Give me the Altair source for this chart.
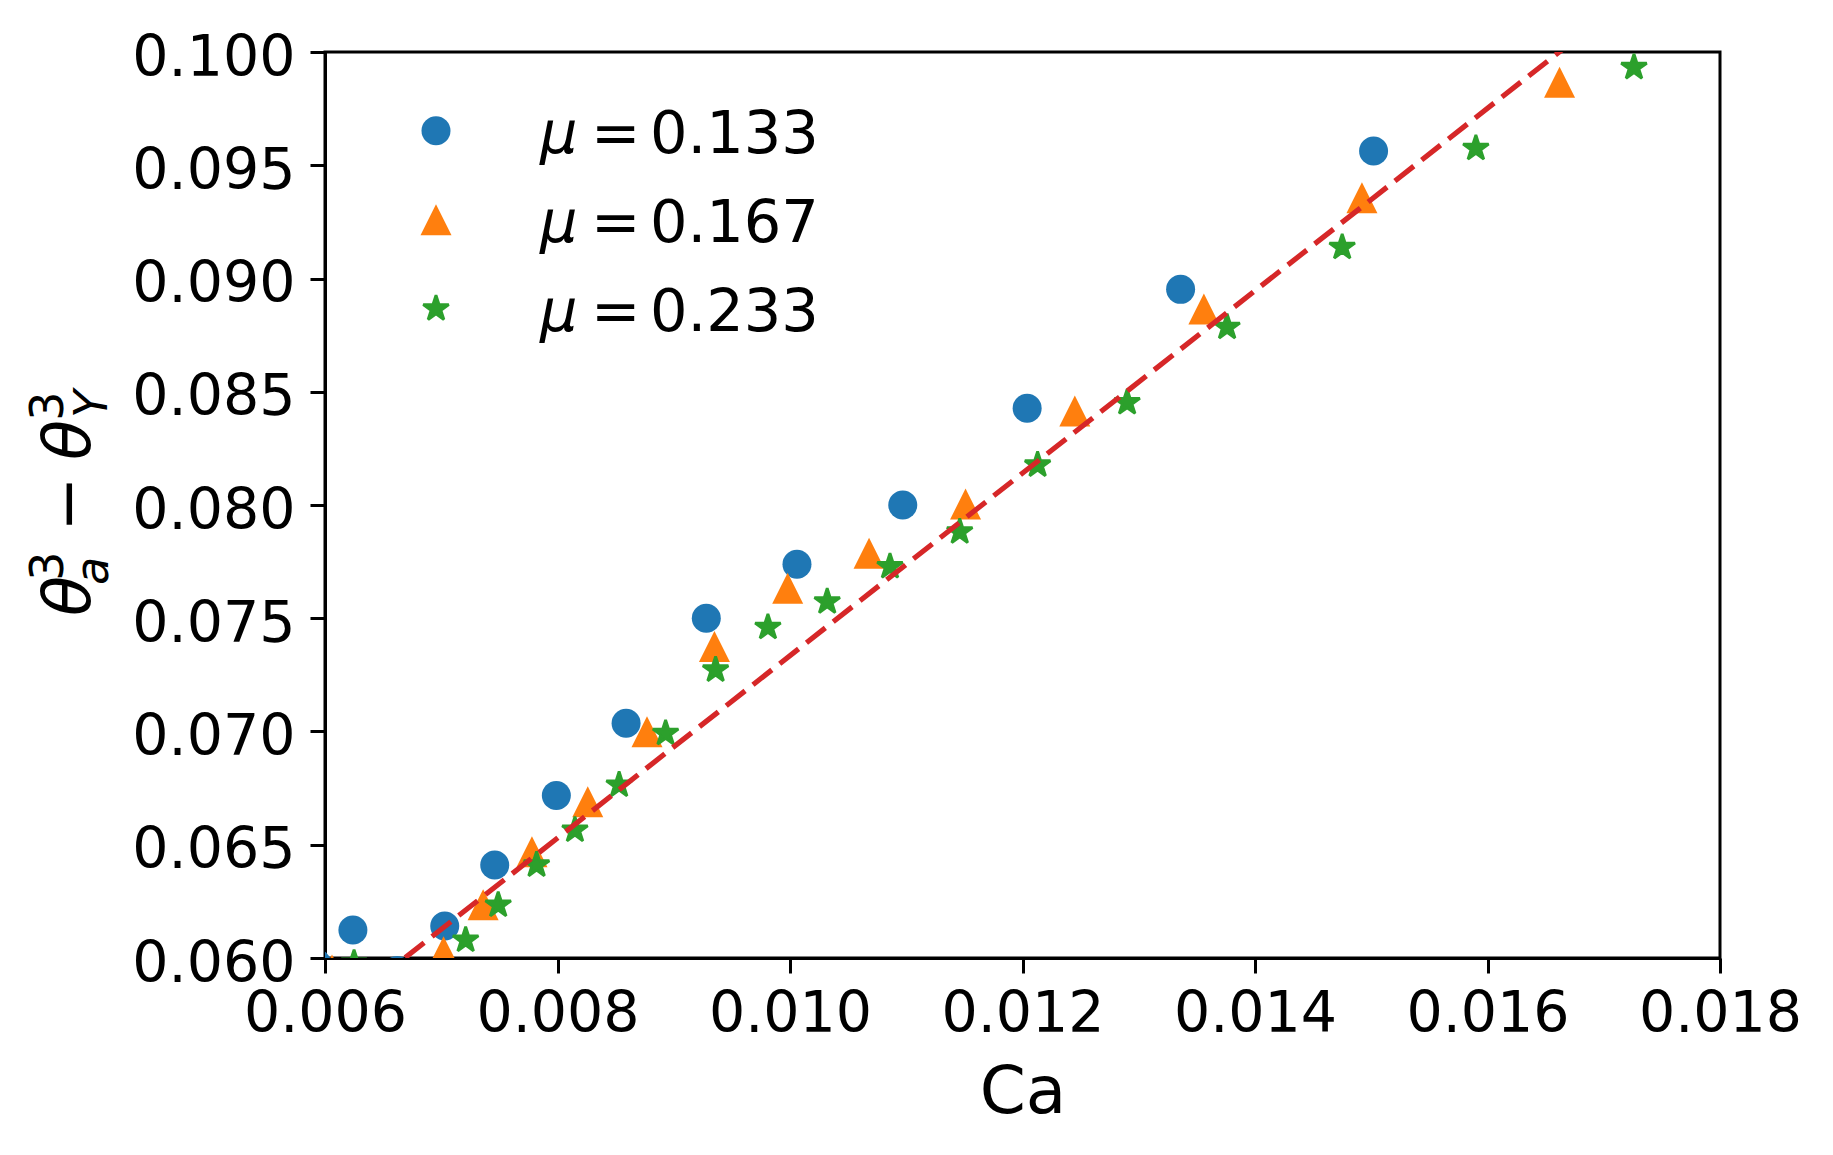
import altair as alt
import pandas as pd

# ---------------- data ----------------
mu_labels = ["0.133", "0.167", "0.233"]

ca_133 = [0.00593, 0.00624, 0.00662, 0.00703, 0.00746, 0.00799, 0.00859,
          0.00928, 0.01006, 0.01097, 0.01204, 0.01336, 0.01502]
dt_133 = [0.05974, 0.06124, 0.05945, 0.06141, 0.06411, 0.06717, 0.07036,
          0.07500, 0.07738, 0.08000, 0.08427, 0.08952, 0.09563]

ca_167 = [0.00606, 0.00702, 0.00736, 0.00778, 0.00826, 0.00877, 0.00935,
          0.00998, 0.01068, 0.01151, 0.01245, 0.01356, 0.01492, 0.01662]
dt_167 = [0.05947, 0.06028, 0.06235, 0.06469, 0.06690, 0.06999, 0.07375,
          0.07632, 0.07787, 0.08004, 0.08415, 0.08865, 0.09357, 0.09866]

ca_233 = [0.00625, 0.00721, 0.00749, 0.00782, 0.00815, 0.00853, 0.00893,
          0.00936, 0.00981, 0.01032, 0.01086, 0.01146, 0.01213, 0.01290,
          0.01376, 0.01475, 0.01590, 0.01726]
dt_233 = [0.05978, 0.06079, 0.06234, 0.06411, 0.06565, 0.06764, 0.06992,
          0.07272, 0.07460, 0.07573, 0.07728, 0.07882, 0.08177, 0.08452,
          0.08785, 0.09138, 0.09575, 0.09932]

fit_ca = [0.0060, 0.0180]
fit_dt = [0.05724, 0.10557]

x_ticks = [0.006, 0.008, 0.010, 0.012, 0.014, 0.016, 0.018]
y_ticks = [0.060, 0.065, 0.070, 0.075, 0.080, 0.085, 0.090, 0.095, 0.100]

# ---------------- styles ----------------
FONT = "DejaVu Sans"
colors = ["#1f77b4", "#ff7f0e", "#2ca02c"]
TRI = "M0,-1L-1,1L1,1Z"
STAR = ("M0,-1L0.2245,-0.309L0.9511,-0.309L0.3633,0.118L0.5878,0.809L0,0.382"
        "L-0.5878,0.809L-0.3633,0.118L-0.9511,-0.309L-0.2245,-0.309Z")
shapes = ["circle", TRI, STAR]
sizes = [841, 961, 720]
strokes = [0, 0, 2.8]

W, H = 1395, 906

xscale = alt.Scale(domain=[0.006, 0.018], nice=False, zero=False)
yscale = alt.Scale(domain=[0.060, 0.100], nice=False, zero=False)

xaxis = alt.Axis(values=x_ticks, format=".3f", title="Ca", titleY=154,
                 titleBaseline="alphabetic", labelPadding=13.5, labelFlush=False)
yaxis = alt.Axis(values=y_ticks, format=".3f", title=None, labelPadding=15,
                 labelOffset=6)


def xy():
    return dict(
        x=alt.X("Ca:Q", scale=xscale, axis=xaxis),
        y=alt.Y("dtheta:Q", scale=yscale, axis=yaxis),
    )


series = [(ca_133, dt_133), (ca_167, dt_167), (ca_233, dt_233)]


def marker_kw(i):
    kw = dict(filled=True, opacity=1, shape=shapes[i], size=sizes[i],
              color=colors[i])
    if strokes[i] > 0:
        kw.update(stroke=colors[i], strokeWidth=strokes[i], strokeJoin="bevel",
                  strokeOpacity=1)
    else:
        kw.update(strokeWidth=0)
    return kw


layers = []
for i, (cx, cy) in enumerate(series):
    df = pd.DataFrame({"Ca": cx, "dtheta": cy})
    layers.append(
        alt.Chart(df).mark_point(clip=True, **marker_kw(i)).encode(**xy())
    )

fit_df = pd.DataFrame({"Ca": fit_ca, "dtheta": fit_dt})
layers.append(
    alt.Chart(fit_df).mark_line(color="#d62728", strokeWidth=5.2,
                                strokeDash=[24, 10], clip=True).encode(**xy())
)


def txt(s, x, y, size, italic=False, angle=None, align="left"):
    kw = dict(font=FONT, fontSize=size, align=align, baseline="alphabetic",
              color="black")
    if italic:
        kw["fontStyle"] = "italic"
    if angle is not None:
        kw["angle"] = angle
    return alt.Chart(pd.DataFrame({"t": [s]})).mark_text(**kw).encode(
        x=alt.value(x), y=alt.value(y), text="t:N")


# legend
for i, lab in enumerate(mu_labels):
    my = 78.7 + 89 * i
    by = 100.7 + 89 * i
    layers.append(
        alt.Chart(pd.DataFrame({"t": [lab]})).mark_point(**marker_kw(i)).encode(
            x=alt.value(111), y=alt.value(my))
    )
    layers.append(txt("μ", 215, by, 59, italic=True))
    layers.append(txt("=", 266, by, 59))
    layers.append(txt(lab, 325, by, 59))

# y-axis title  θ_a^3 − θ_Y^3 (rotated)
layers.append(txt("θ", -235, 544, 66, italic=True, angle=270, align="center"))
layers.append(txt("3", -262, 514, 46, angle=270, align="center"))
layers.append(txt("a", -217, 519, 46, italic=True, angle=270, align="center"))
layers.append(txt("−", -235, 452, 66, angle=270, align="center"))
layers.append(txt("θ", -235, 388, 66, italic=True, angle=270, align="center"))
layers.append(txt("3", -262, 354, 46, angle=270, align="center"))
layers.append(txt("Y", -218, 352, 46, italic=True, angle=270, align="center"))

chart = alt.layer(*layers).properties(
    width=W, height=H,
    padding={"left": 317, "top": 44, "right": 100, "bottom": 180},
    autosize=alt.AutoSizeParams(type="none"),
    background="white",
).configure_view(
    stroke="black", strokeWidth=3
).configure_axis(
    labelFont=FONT, titleFont=FONT, labelFontSize=57, titleFontSize=66,
    titleFontWeight="normal", labelColor="black", titleColor="black",
    tickColor="black", domainColor="black", tickSize=15, tickWidth=3,
    domainWidth=3, grid=False,
)

chart.save("out.html", embed_options={"renderer": "svg", "actions": False})
